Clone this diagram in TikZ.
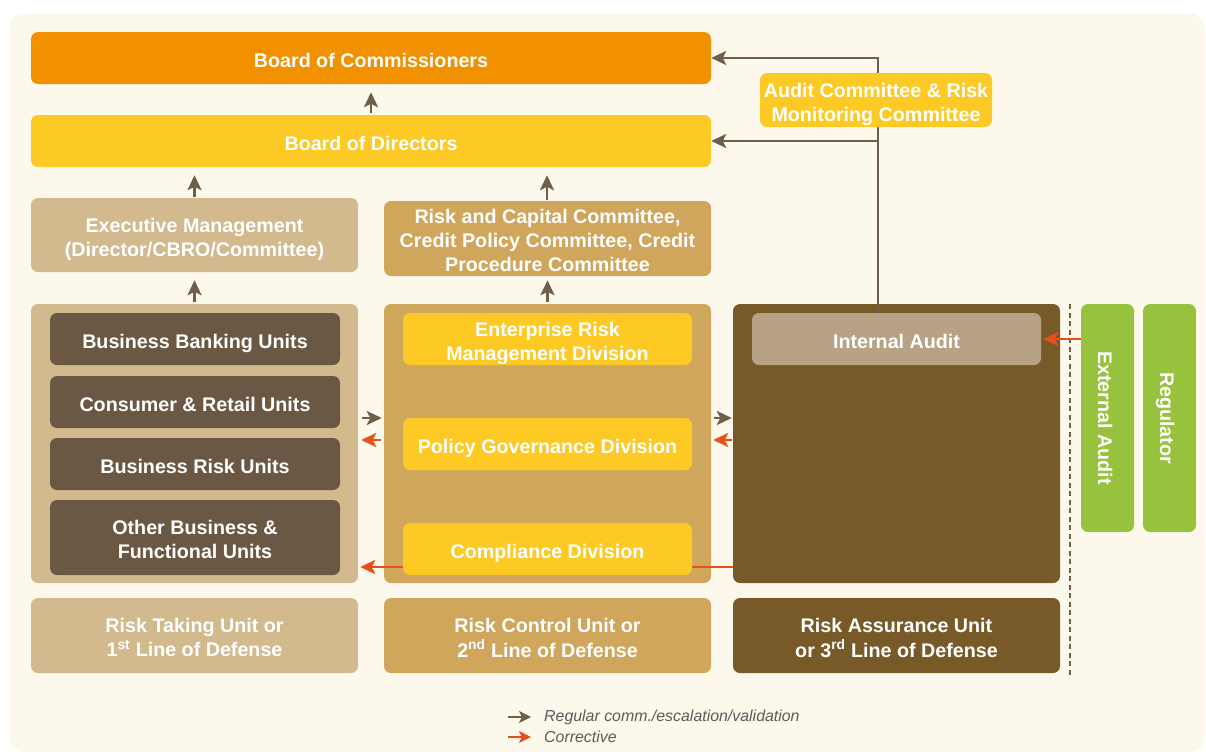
\documentclass[tikz,border=0pt]{standalone}
\usepackage{fontspec}
\setmainfont{Liberation Sans}
\usetikzlibrary{arrows.meta,calc}
\definecolor{bgc}{HTML}{FDF8EC}
\definecolor{orangebox}{HTML}{F29100}
\definecolor{yellowbox}{HTML}{FDCA25}
\definecolor{lighttan}{HTML}{D2BA8E}
\definecolor{midtan}{HTML}{D0A55C}
\definecolor{darkbrown}{HTML}{785A28}
\definecolor{greybrown}{HTML}{6B5844}
\definecolor{iabox}{HTML}{B8A286}
\definecolor{greenbox}{HTML}{97C23D}
\definecolor{arrgrey}{HTML}{6F5E4B}
\definecolor{arrorange}{HTML}{E8501A}
\definecolor{legtext}{HTML}{5B5B5B}
\newcommand\lbl[1]{\raisebox{-4.5pt}[\height][\depth]{\begin{tabular}{@{}c@{}}#1\end{tabular}}}
\begin{document}
\begin{tikzpicture}[x=1pt,y=-1pt,
  box/.style={rounded corners=7pt, inner sep=0pt, text=white,
    font=\bfseries\fontsize{19.7}{24}\selectfont},
  wide/.style={box, minimum width=680pt, minimum height=52pt},
  col/.style={box, minimum width=327pt, minimum height=279pt},
  mid/.style={box, minimum width=327pt, minimum height=75pt},
  unit/.style={box, minimum width=290pt, minimum height=52pt},
  side/.style={box, minimum width=228pt, minimum height=53pt, rotate=-90},
  tip/.style={-{Stealth[length=15pt,width=14pt,inset=3.5pt]}},
  garr/.style={draw=arrgrey, line width=2.6pt, tip},
  oarr/.style={draw=arrorange, line width=2.6pt, tip},
  oline/.style={draw=arrorange, line width=2.6pt},
  legend/.style={anchor=west, inner sep=0pt, text=legtext, font=\itshape\fontsize{15.9}{18}\selectfont}
]
\useasboundingbox (0,0) rectangle (1206,753);
\fill[white] (0,0) rectangle (1206,753);
\fill[bgc, rounded corners=16pt] (9,13) rectangle (1205,752);

% top boards
\node[wide, fill=orangebox] (boc) at (371,58) {\lbl{Board of Commissioners}};
\node[wide, fill=yellowbox] (bod) at (371,141) {\lbl{Board of Directors}};

% committees
\node[mid, fill=lighttan, minimum height=74pt] (exec) at (194.5,235) {\lbl{Executive Management\\(Director/CBRO/Committee)}};
\node[mid, fill=midtan] (rcc) at (547.5,238.5) {\lbl{Risk and Capital Committee,\\Credit Policy Committee, Credit\\Procedure Committee}};

% columns
\node[col, fill=lighttan] (col1) at (194.5,443.5) {};
\node[col, fill=midtan] (col2) at (547.5,443.5) {};
\node[col, fill=darkbrown] (col3) at (896.5,443.5) {};

% column 1 units
\node[unit, fill=greybrown] (bbu) at (195,339) {\lbl{Business Banking Units}};
\node[unit, fill=greybrown] (cru) at (195,402) {\lbl{Consumer \& Retail Units}};
\node[unit, fill=greybrown] (bru) at (195,464) {\lbl{Business Risk Units}};
\node[unit, fill=greybrown, minimum height=75pt] (obu) at (195,537.5) {\lbl{Other Business \&\\Functional Units}};

% compliance corrective line (behind compliance box)
\coordinate (yc) at (0,567);
\draw[oline] (col3.west |- yc) -- (col2.east |- yc);
\draw[oline] (col2.east |- yc) -- (547.5,567);

% column 2 units
\node[unit, fill=yellowbox, minimum width=289pt] (erm) at (547.5,339) {\lbl{Enterprise Risk\\Management Division}};
\node[unit, fill=yellowbox, minimum width=289pt] (pgd) at (547.5,444) {\lbl{Policy Governance Division}};
\node[unit, fill=yellowbox, minimum width=289pt] (cd) at (547.5,549) {\lbl{Compliance Division}};

% column 3 unit
\node[unit, fill=iabox, minimum width=289pt] (ia) at (896.5,339) {\lbl{Internal Audit}};

% bottom labels
\node[mid, fill=lighttan] (rtu) at (194.5,635.5) {\lbl{Risk Taking Unit or\\1\textsuperscript{st} Line of Defense}};
\node[mid, fill=midtan] (rcu) at (547.5,635.5) {\lbl{Risk Control Unit or\\2\textsuperscript{nd} Line of Defense}};
\node[mid, fill=darkbrown] (rau) at (896.5,635.5) {\lbl{Risk Assurance Unit\\or 3\textsuperscript{rd} Line of Defense}};

% external parties
\coordinate (dtop) at (1070,304);
\coordinate (dbot) at (1070,676);
\draw[arrgrey, line width=2.6pt, dash pattern=on 5pt off 3.5pt] (dtop) -- (dbot);
\node[side, fill=greenbox] (ext) at (1107.5,418) {\lbl{External Audit}};
\node[side, fill=greenbox] (reg) at (1169.5,418) {\lbl{Regulator}};

% vertical escalation arrows
\draw[garr, shorten <=2pt, shorten >=8pt] (bod.north) -- (boc.south);
\draw[garr, shorten <=1pt, shorten >=8pt] (exec.north) -- (exec.north |- bod.south);
\draw[garr, shorten <=1pt, shorten >=8pt] ([xshift=-0.5pt]rcc.north) -- ([xshift=-0.5pt]rcc.north |- bod.south);
\draw[garr, shorten <=2pt, shorten >=8pt] (col1.north) -- (exec.south);
\draw[garr, shorten <=2pt, shorten >=4pt] (col2.north) -- (rcc.south);

% horizontal arrows between columns
\coordinate (ya) at (0,418);
\coordinate (yb) at (0,440);
\draw[garr, shorten <=4pt, shorten >=2pt] (col1.east |- ya) -- (col2.west |- ya);
\draw[oarr, shorten <=3pt, shorten >=3pt] (col2.west |- yb) -- (col1.east |- yb);
\draw[garr, shorten <=3pt, shorten >=1pt] (col2.east |- ya) -- (col3.west |- ya);
\draw[oarr, shorten <=1pt, shorten >=2pt] (col3.west |- yb) -- (col2.east |- yb);
\draw[oarr, shorten >=2pt] (cd.west |- yc) -- (col1.east |- yc);

% external audit corrective
\draw[oarr, shorten >=2pt] (ext.south |- ia.east) -- (ia.east);

% internal audit escalation to boards
\coordinate (iaup) at ([xshift=-18.5pt]ia.north);
\draw[garr] (iaup) |- (boc.east);
\draw[garr] (iaup |- bod.east) -- (bod.east);
\node[box, fill=yellowbox, minimum width=232pt, minimum height=54pt] (acrm) at (876,100) {\lbl{Audit Committee \& Risk\\Monitoring Committee}};

% legend
\coordinate (l1s) at (508,717);
\coordinate (l1e) at (531,717);
\coordinate (l2s) at (508,737);
\coordinate (l2e) at (531,737);
\draw[garr, -{Stealth[length=12pt,width=12pt,inset=3pt]}] (l1s) -- (l1e);
\draw[oarr, -{Stealth[length=12pt,width=12pt,inset=3pt]}] (l2s) -- (l2e);
\node[legend] (leg1) at (544,717) {Regular comm./escalation/validation};
\node[legend] (leg2) at (544,737) {Corrective};
\end{tikzpicture}
\end{document}
